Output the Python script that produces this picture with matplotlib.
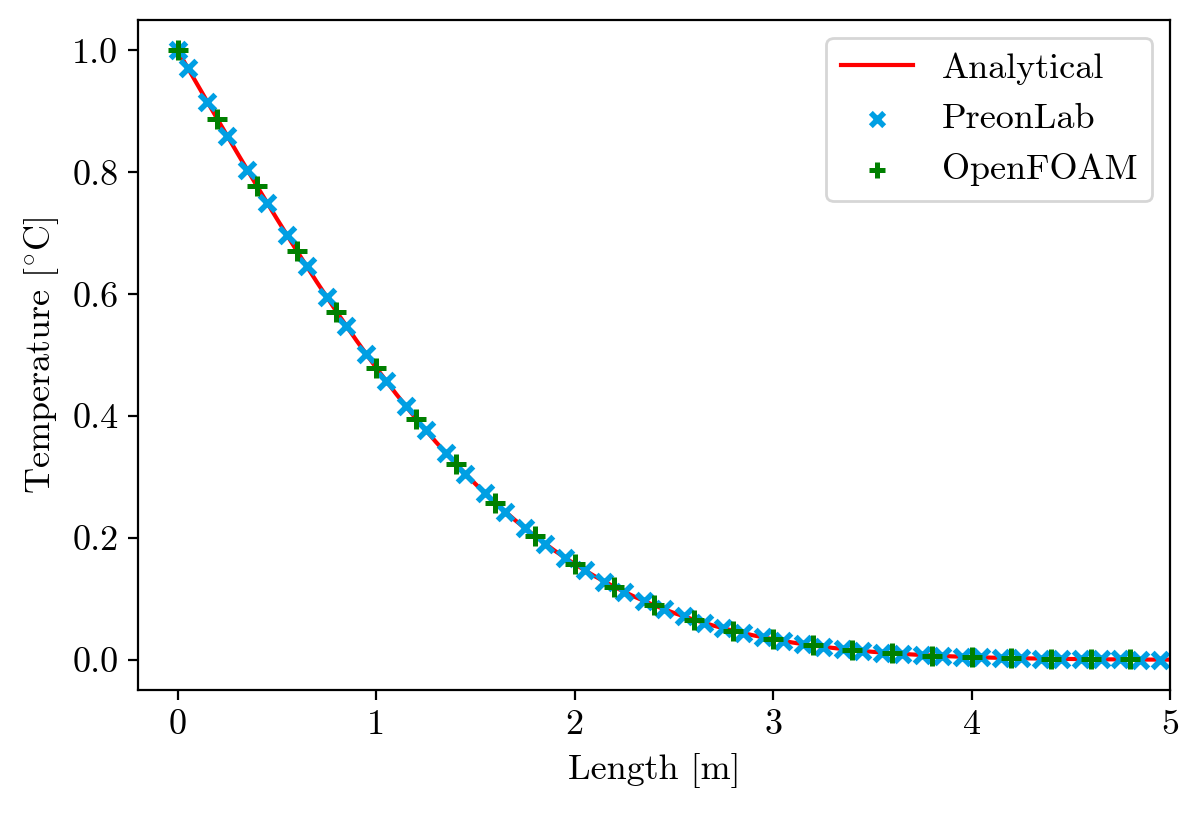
import matplotlib
matplotlib.use("Agg")
import matplotlib.pyplot as plt

plt.rcParams['font.family'] = 'serif'
plt.rcParams['font.serif'] = ['cmr10']
plt.rcParams['mathtext.fontset'] = 'cm'
plt.rcParams['axes.formatter.use_mathtext'] = True
plt.rcParams['font.size'] = 13

# Analytical curve
x_ana = [i / 10 for i in range(51)]
y_ana = [1.0000, 0.9436, 0.8875, 0.8320, 0.7773, 0.7237, 0.6714, 0.6206, 0.5716, 0.5245,
         0.4795, 0.4367, 0.3961, 0.3580, 0.3222, 0.2888, 0.2579, 0.2293, 0.2031, 0.1791,
         0.1573, 0.1376, 0.1198, 0.1039, 0.0897, 0.0771, 0.0660, 0.0562, 0.0477, 0.0403,
         0.0339, 0.0284, 0.0237, 0.0197, 0.0162, 0.0133, 0.0109, 0.0089, 0.0072, 0.0058,
         0.0047, 0.0037, 0.0030, 0.0024, 0.0019, 0.0015, 0.0011, 0.0009, 0.0007, 0.0005,
         0.0004]

# PreonLab
x_preon = [0.0] + [0.05 + i / 10 for i in range(50)]
y_preon = [1.0000,
           0.9718, 0.9155, 0.8597, 0.8045, 0.7504, 0.6974, 0.6458, 0.5959, 0.5478, 0.5018,
           0.4579, 0.4162, 0.3768, 0.3398, 0.3052, 0.2731, 0.2433, 0.2159, 0.1908, 0.1679,
           0.1472, 0.1284, 0.1116, 0.0965, 0.0832, 0.0714, 0.0610, 0.0518, 0.0439, 0.0370,
           0.0311, 0.0260, 0.0216, 0.0179, 0.0147, 0.0121, 0.0099, 0.0080, 0.0065, 0.0052,
           0.0042, 0.0034, 0.0027, 0.0021, 0.0017, 0.0013, 0.0010, 0.0008, 0.0006, 0.0005]

# OpenFOAM
x_foam = [i / 5 for i in range(25)]
y_foam = [1.0000, 0.8875, 0.7773, 0.6714, 0.5716, 0.4795, 0.3961, 0.3222, 0.2579, 0.2031,
          0.1573, 0.1198, 0.0897, 0.0660, 0.0477, 0.0339, 0.0237, 0.0162, 0.0109, 0.0072,
          0.0047, 0.0030, 0.0019, 0.0011, 0.0007]

fig = plt.figure(figsize=(6, 4.085), dpi=200)
ax = fig.add_axes([0.115, 0.155, 0.86, 0.8205])

ax.plot(x_ana, y_ana, color='red', lw=1.5, label='Analytical', zorder=1)
ax.scatter(x_preon, y_preon, marker='x', color='#009FE3', s=32, linewidths=2,
           label='PreonLab', zorder=2)
ax.scatter(x_foam, y_foam, marker='+', color='green', s=50, linewidths=1.8,
           label='OpenFOAM', zorder=3)

ax.set_xlim(-0.2, 5)
ax.set_ylim(-0.05, 1.05)
ax.set_xticks([0, 1, 2, 3, 4, 5])
ax.set_xticklabels(['0', '1', '2', '3', '4', '5'])
ax.set_yticks([0.0, 0.2, 0.4, 0.6, 0.8, 1.0])
ax.set_yticklabels(['0.0', '0.2', '0.4', '0.6', '0.8', '1.0'])
ax.set_xlabel('Length [m]')
ax.set_ylabel(r'Temperature [$^{\circ}$C]')
ax.legend(loc='upper right', scatterpoints=1, markerscale=0.85)

fig.savefig('out.png', dpi=200)
